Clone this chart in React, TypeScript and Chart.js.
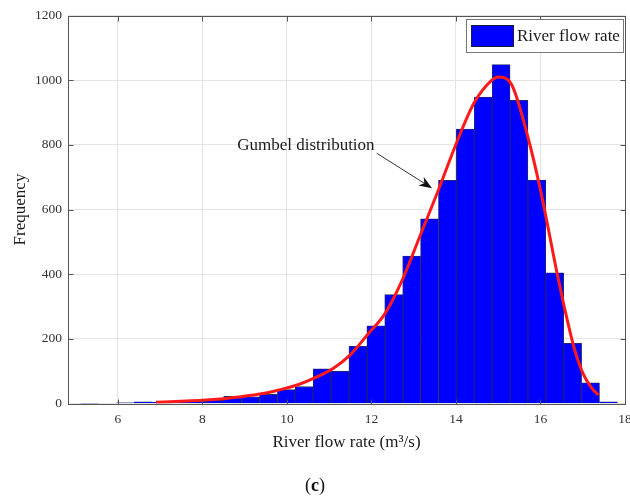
import React, { useEffect, useRef } from 'react';
import { Chart, registerables } from 'chart.js';

Chart.register(...registerables);

// ---- Data ----
const BIN_CENTERS = [
  5.329, 5.752, 6.176, 6.599, 7.022, 7.446, 7.869, 8.293, 8.716, 9.14,
  9.563, 9.987, 10.41, 10.833, 11.257, 11.68, 12.104, 12.527, 12.951, 13.374,
  13.798, 14.221, 14.644, 15.068, 15.491, 15.915, 16.338, 16.762, 17.185, 17.609,
];
const COUNTS = [
  1, 0, 2, 5, 4, 6, 8, 11, 22, 21,
  28, 43, 52, 107, 100, 177, 240, 337, 456, 571,
  690, 849, 948, 1048, 938, 691, 404, 186, 64, 5,
];

const CURVE_X = [
  6.9, 7.5, 8.0, 8.5, 8.91, 9.4, 9.82, 10.26, 10.67, 11.11, 11.48, 11.92, 12.32,
  12.74, 13.17, 13.59, 14.01, 14.43, 14.85, 15.0, 15.3, 15.7, 16.0, 16.41, 16.57,
  16.8, 17.0, 17.2, 17.37,
];
const CURVE_Y = [
  4, 7, 10, 15, 21, 30, 42, 58, 80, 110, 148, 215, 278,
  385, 525, 662, 805, 930, 1000, 1010, 990, 825, 660, 392, 295,
  170, 95, 50, 26,
];

const X_TICKS = [6, 8, 10, 12, 14, 16, 18];
const Y_TICKS = [0, 200, 400, 600, 800, 1000, 1200];

const X_MIN = 4.82;
const X_MAX = 18.0;
const Y_MIN = 0;
const Y_MAX = 1200;

const BAR_LABEL = 'River flow rate';
const CURVE_LABEL = 'Gumbel distribution';
const X_TITLE = 'River flow rate (m³/s)';
const Y_TITLE = 'Frequency';

// annotation anchor points in data coordinates
const ANN_TEXT = { x: 8.823, y: 799 };
const ANN_ARROW_FROM = { x: 12.126, y: 774 };
const ANN_ARROW_TO = { x: 13.434, y: 666 };

const SERIF = "'Liberation Serif', 'Times New Roman', serif";

const decorPlugin = {
  id: 'decor',
  afterDatasetsDraw(chart: any) {
    const { ctx, chartArea: a, scales } = chart;
    ctx.save();
    ctx.strokeStyle = '#555555';
    ctx.lineWidth = 1;
    const L = Math.round(a.left) + 0.5;
    const R = Math.round(a.right) + 0.5;
    const T = Math.round(a.top) + 0.5;
    const B = Math.round(a.bottom) + 0.5;
    ctx.strokeRect(L, T, R - L, B - T);
    // inner tick marks
    ctx.beginPath();
    const tl = 5;
    X_TICKS.forEach((v) => {
      const px = Math.round(scales.x.getPixelForValue(v)) + 0.5;
      ctx.moveTo(px, B);
      ctx.lineTo(px, B - tl);
      ctx.moveTo(px, T);
      ctx.lineTo(px, T + tl);
    });
    Y_TICKS.forEach((v) => {
      const py = Math.round(scales.y.getPixelForValue(v)) + 0.5;
      ctx.moveTo(L, py);
      ctx.lineTo(L + tl, py);
      ctx.moveTo(R, py);
      ctx.lineTo(R - tl, py);
    });
    ctx.stroke();
    ctx.restore();
  },
  afterDraw(chart: any) {
    const { ctx, scales } = chart;
    ctx.save();
    // Legend box (top-right inside plot)
    const lx = 466.5, ly = 19.5, lw = 157, lh = 33;
    ctx.fillStyle = '#ffffff';
    ctx.fillRect(lx, ly, lw, lh);
    ctx.strokeStyle = '#777777';
    ctx.lineWidth = 1;
    ctx.strokeRect(lx, ly, lw, lh);
    ctx.fillStyle = '#0000ff';
    ctx.fillRect(471, 25, 43, 22);
    ctx.strokeStyle = '#1a1a40';
    ctx.strokeRect(471.5, 25.5, 42, 21);
    ctx.fillStyle = '#1a1a1a';
    ctx.font = `17px ${SERIF}`;
    ctx.textAlign = 'left';
    ctx.textBaseline = 'middle';
    ctx.fillText(BAR_LABEL, 517, 37);

    // Annotation text
    const tx = scales.x.getPixelForValue(ANN_TEXT.x);
    const ty = scales.y.getPixelForValue(ANN_TEXT.y);
    ctx.fillText(CURVE_LABEL, tx, ty);

    // Arrow
    const x1 = scales.x.getPixelForValue(ANN_ARROW_FROM.x);
    const y1 = scales.y.getPixelForValue(ANN_ARROW_FROM.y);
    const x2 = scales.x.getPixelForValue(ANN_ARROW_TO.x);
    const y2 = scales.y.getPixelForValue(ANN_ARROW_TO.y);
    const ang = Math.atan2(y2 - y1, x2 - x1);
    const hl = 13, hw = 5;
    const bx = x2 - hl * Math.cos(ang);
    const by = y2 - hl * Math.sin(ang);
    const nx = x2 - hl * 0.7 * Math.cos(ang);
    const ny = y2 - hl * 0.7 * Math.sin(ang);
    ctx.strokeStyle = '#333333';
    ctx.lineWidth = 1;
    ctx.beginPath();
    ctx.moveTo(x1, y1);
    ctx.lineTo(nx, ny);
    ctx.stroke();
    ctx.fillStyle = '#111111';
    ctx.beginPath();
    ctx.moveTo(x2, y2);
    ctx.lineTo(bx + hw * Math.sin(ang), by - hw * Math.cos(ang));
    ctx.lineTo(nx, ny);
    ctx.lineTo(bx - hw * Math.sin(ang), by + hw * Math.cos(ang));
    ctx.closePath();
    ctx.fill();
    ctx.restore();
  },
};

export default function App() {
  const canvasRef = useRef<HTMLCanvasElement | null>(null);

  useEffect(() => {
    const canvas = canvasRef.current;
    if (!canvas) return;
    const chart = new Chart(canvas, {
      type: 'bar',
      data: {
        datasets: [
          {
            type: 'line',
            label: CURVE_LABEL,
            data: CURVE_X.map((x, i) => ({ x, y: CURVE_Y[i] })),
            borderColor: '#ff1a1a',
            backgroundColor: '#ff1a1a',
            borderWidth: 3,
            pointRadius: 0,
            fill: false,
            cubicInterpolationMode: 'monotone',
            order: 0,
          } as any,
          {
            type: 'bar',
            label: BAR_LABEL,
            data: BIN_CENTERS.map((x, i) => ({ x, y: COUNTS[i] })),
            backgroundColor: '#0000ff',
            borderColor: 'rgba(10,10,50,0.85)',
            borderWidth: 0.8,
            barPercentage: 1,
            categoryPercentage: 1,
            order: 1,
          } as any,
        ],
      },
      options: {
        animation: false,
        responsive: false,
        maintainAspectRatio: false,
        layout: { padding: { left: 0, right: 20, top: 15.5, bottom: 44.8 } },
        scales: {
          x: {
            type: 'linear',
            min: X_MIN,
            max: X_MAX,
            offset: false,
            afterBuildTicks: (s: any) => {
              s.ticks = X_TICKS.map((v) => ({ value: v }));
            },
            afterFit: (s: any) => {
              s.height = 49.7;
            },
            grid: { color: '#e4e4e4', drawTicks: false, offset: false, lineWidth: 1 },
            border: { display: false },
            ticks: {
              color: '#333333',
              font: { family: SERIF, size: 13.5 },
              padding: 8,
              maxRotation: 0,
              autoSkip: false,
              callback: (v: any) => String(v),
            },
            title: {
              display: true,
              text: X_TITLE,
              color: '#1a1a1a',
              font: { family: SERIF, size: 17 },
              padding: 0,
            },
          },
          y: {
            type: 'linear',
            min: Y_MIN,
            max: Y_MAX,
            afterBuildTicks: (s: any) => {
              s.ticks = Y_TICKS.map((v) => ({ value: v }));
            },
            afterFit: (s: any) => {
              s.width = 68;
            },
            grid: { color: '#e4e4e4', drawTicks: false, lineWidth: 1 },
            border: { display: false },
            ticks: {
              color: '#333333',
              font: { family: SERIF, size: 13.5 },
              padding: 6,
              autoSkip: false,
              callback: (v: any) => String(v),
            },
            title: {
              display: true,
              text: Y_TITLE,
              color: '#1a1a1a',
              font: { family: SERIF, size: 17 },
              padding: { top: 10, bottom: 0 },
            },
          },
        },
        plugins: {
          legend: { display: false },
          tooltip: { enabled: false },
        },
      } as any,
      plugins: [decorPlugin],
    });
    return () => chart.destroy();
  }, []);

  return (
    <div
      style={{
        position: 'fixed',
        left: 0,
        top: 0,
        width: 630,
        height: 498,
        overflow: 'hidden',
        background: '#ffffff',
      }}
    >
      <canvas ref={canvasRef} width={645} height={498} style={{ display: 'block' }} />
      <div
        style={{
          position: 'absolute',
          left: 0,
          top: 473,
          width: 630,
          textAlign: 'center',
          fontFamily: SERIF,
          fontSize: 18,
          lineHeight: '24px',
          color: '#111111',
        }}
      >
        (<b>c</b>)
      </div>
    </div>
  );
}
